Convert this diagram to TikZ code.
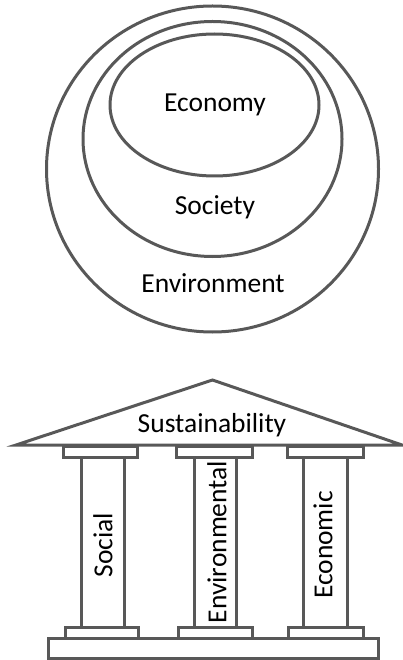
\documentclass[tikz,border=0pt]{standalone}
\usepackage{fontspec}
\setmainfont{Carlito}
\usepackage{xcolor,tikz}
\usetikzlibrary{shapes.geometric}
\definecolor{linegray}{RGB}{88,88,88}
\tikzset{part/.style={line width=3pt, draw=linegray}}
\tikzset{lbl/.style={font=\fontsize{27.5}{33}\selectfont, inner sep=0pt}}

\begin{document}
\begin{tikzpicture}[x=1pt,y=-1pt]
\useasboundingbox (0,0) rectangle (403,660);
%%%% nested circles
\draw[part] (212.5,169) ellipse [x radius=166, y radius=163];
\draw[part] (212.5,139) ellipse [x radius=129.5, y radius=117.5];
\draw[part] (214.5,105) ellipse [x radius=104.5, y radius=71];
\node[lbl] (economy) at (215,105) {Economy};
\node[lbl] (society) at (215,207) {Society};
\node[lbl] (environment) at (213,283) {Environment};
%%%% roof
\draw[part, line join=miter] (16,445) -- (212.5,380) -- (402,445) -- cycle;
\node[lbl] (sustainability) at (212,425) {Sustainability};
%%%% capitals
\draw[part] (63,446) rectangle (137,457);
\draw[part] (176,446) rectangle (252,457);
\draw[part] (287,446) rectangle (363,457);
%%%% columns
\draw[part] (81,457) rectangle (124,627);
\draw[part] (194,457) rectangle (236,627);
\draw[part] (303,457) rectangle (347,627);
\node[lbl, rotate=90] (social) at (103,545) {Social};
\node[lbl, rotate=90] (environmental) at (217,542) {Environmental};
\node[lbl, rotate=90] (economic) at (323,545) {Economic};
%%%% plinths
\draw[part] (65,627) rectangle (138,638);
\draw[part] (178,627) rectangle (252,638);
\draw[part] (288,627) rectangle (363,638);
%%%% base
\draw[part] (48,638) rectangle (378,658);
\end{tikzpicture}
\end{document}
